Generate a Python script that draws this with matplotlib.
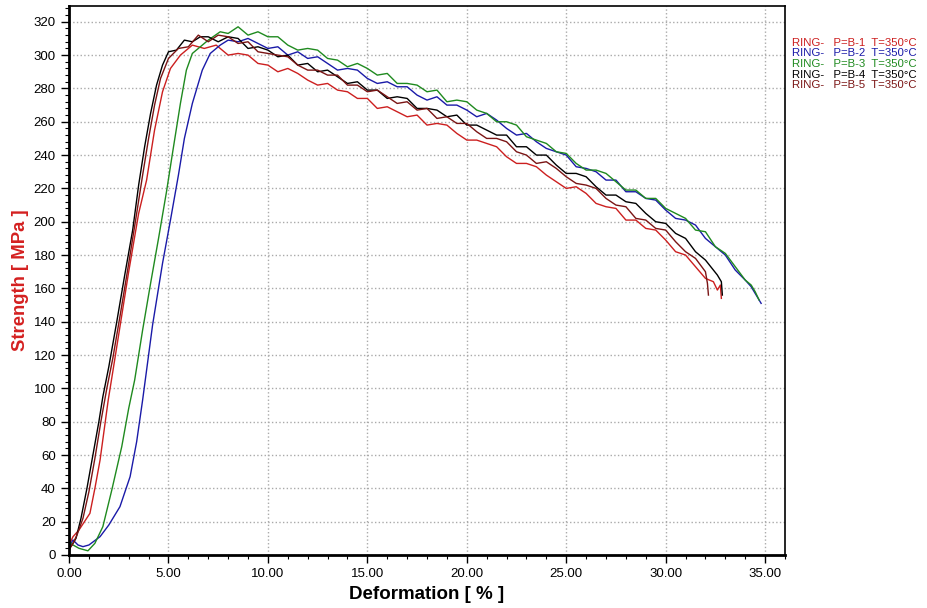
import matplotlib
matplotlib.use('Agg')
import matplotlib.pyplot as plt
from matplotlib.ticker import MultipleLocator, FormatStrFormatter

plt.rcParams['font.family'] = ['Liberation Sans', 'DejaVu Sans']

# B-1 (red)
x_b1 = [0.0, 0.2, 0.5, 1.05, 1.3, 1.56, 1.97, 2.2, 2.6, 3.0, 3.5, 3.9, 4.3, 4.7, 5.1, 5.6,
        6.2, 6.8, 7.4, 8.0, 8.5, 9.0, 9.5, 10.0, 10.5, 11.0, 11.5, 12.0, 12.5, 13.0, 13.5,
        14.0, 14.5, 15.0, 15.5, 16.0, 16.5, 17.0, 17.5, 18.0, 18.5, 19.0, 19.5, 20.0, 20.5,
        21.0, 21.5, 22.0, 22.5, 23.0, 23.5, 24.0, 24.5, 25.0, 25.5, 26.0, 26.5, 27.0, 27.5,
        28.0, 28.5, 29.0, 29.5, 30.0, 30.5, 31.0, 31.5, 32.0, 32.4, 32.6, 32.75, 32.8]
y_b1 = [6, 11, 15, 25, 40, 57, 93, 110, 140, 170, 205, 225, 255, 278, 292, 300,
        306, 304, 306, 300, 301, 300, 295, 294, 290, 292, 289, 285, 282, 283, 279,
        278, 274, 274, 268, 269, 266, 263, 264, 258, 259, 258, 253, 249, 249,
        247, 245, 239, 235, 235, 233, 228, 224, 220, 221, 217, 211, 209, 208,
        201, 201, 196, 195, 189, 182, 180, 173, 166, 164, 159, 162, 154]

# B-2 (blue)
x_b2 = [0.0, 0.2, 0.45, 0.7, 1.0, 1.56, 2.0, 2.56, 3.07, 3.4, 3.7, 4.2, 4.7, 5.1, 5.5, 5.8,
        6.2, 6.7, 7.1, 7.6, 8.0, 8.5, 9.0, 9.5, 10.0, 10.5, 11.0, 11.5, 12.0, 12.5, 13.0,
        13.5, 14.0, 14.5, 15.0, 15.5, 16.0, 16.5, 17.0, 17.5, 18.0, 18.5, 19.0, 19.5, 20.0,
        20.5, 21.0, 21.5, 22.0, 22.5, 23.0, 23.5, 24.0, 24.5, 25.0, 25.5, 26.0, 26.5, 27.0,
        27.5, 28.0, 28.5, 29.0, 29.5, 30.0, 30.5, 31.0, 31.5, 32.0, 32.5, 33.0, 33.5, 34.0,
        34.3, 34.6, 34.8]
y_b2 = [5, 9, 6, 5, 6, 11, 18, 29, 47, 68, 93, 138, 175, 201, 228, 250,
        271, 291, 301, 306, 309, 308, 310, 307, 304, 305, 300, 302, 298, 299, 295,
        291, 292, 291, 286, 283, 284, 281, 281, 276, 273, 275, 270, 270, 267,
        263, 265, 261, 256, 252, 253, 248, 244, 242, 240, 233, 232, 230, 225,
        225, 218, 218, 214, 213, 207, 202, 201, 198, 190, 185, 180, 171, 165,
        161, 155, 151]

# B-3 (green)
x_b3 = [0.0, 0.2, 0.5, 0.95, 1.3, 1.7, 2.15, 2.65, 3.0, 3.3, 3.7, 4.1, 4.5, 4.9, 5.2, 5.6,
        5.9, 6.2, 6.6, 7.0, 7.6, 8.0, 8.5, 9.0, 9.5, 10.0, 10.5, 11.0, 11.5, 12.0, 12.5,
        13.0, 13.5, 14.0, 14.5, 15.0, 15.5, 16.0, 16.5, 17.0, 17.5, 18.0, 18.5, 19.0, 19.5,
        20.0, 20.5, 21.0, 21.5, 22.0, 22.5, 23.0, 23.5, 24.0, 24.5, 25.0, 25.5, 26.0, 26.5,
        27.0, 27.5, 28.0, 28.5, 29.0, 29.5, 30.0, 30.5, 31.0, 31.5, 32.0, 32.5, 33.0, 33.5,
        34.0, 34.3, 34.5, 34.7]
y_b3 = [8, 6, 4, 2.5, 7, 17, 39, 65, 88, 105, 135, 163, 190, 218, 241, 271,
        291, 301, 305, 309, 314, 313, 317, 312, 314, 311, 311, 306, 303, 304, 303,
        298, 297, 293, 295, 292, 288, 289, 283, 283, 282, 278, 279, 272, 273,
        272, 267, 265, 260, 260, 258, 251, 249, 247, 242, 241, 235, 231, 231,
        229, 224, 219, 219, 214, 214, 208, 205, 202, 195, 194, 185, 181, 173,
        165, 162, 158, 153]

# B-4 (black)
x_b4 = [0.0, 0.15, 0.35, 0.6, 0.9, 1.2, 1.5, 1.7, 2.0, 2.4, 2.8, 3.2, 3.5, 3.8, 4.1, 4.4,
        4.7, 5.0, 5.4, 5.8, 6.2, 6.6, 7.0, 7.5, 8.0, 8.5, 9.0, 9.5, 10.0, 10.5, 11.0,
        11.5, 12.0, 12.5, 13.0, 13.5, 14.0, 14.5, 15.0, 15.5, 16.0, 16.5, 17.0, 17.5, 18.0,
        18.5, 19.0, 19.5, 20.0, 20.5, 21.0, 21.5, 22.0, 22.5, 23.0, 23.5, 24.0, 24.5, 25.0,
        25.5, 26.0, 26.5, 27.0, 27.5, 28.0, 28.5, 29.0, 29.5, 30.0, 30.5, 31.0, 31.5, 32.0,
        32.4, 32.6, 32.8, 32.85]
y_b4 = [4, 6, 10, 22, 40, 60, 80, 95, 113, 140, 168, 195, 222, 245, 265, 282,
        294, 302, 303, 309, 308, 311, 311, 308, 311, 310, 304, 305, 303, 299, 300,
        294, 295, 290, 291, 287, 283, 284, 279, 279, 274, 275, 274, 268, 268,
        267, 263, 264, 258, 258, 255, 252, 252, 245, 245, 240, 240, 234, 229,
        229, 227, 221, 216, 216, 212, 211, 205, 200, 199, 193, 190, 182, 177,
        171, 168, 164, 156]

# B-5 (dark red)
x_b5 = [0.0, 0.2, 0.4, 0.7, 1.0, 1.3, 1.6, 1.9, 2.2, 2.6, 3.0, 3.4, 3.7, 4.0, 4.3, 4.6,
        5.0, 5.5, 6.0, 6.5, 7.0, 7.5, 8.0, 8.5, 9.0, 9.5, 10.0, 10.5, 11.0, 11.5, 12.0,
        12.5, 13.0, 13.5, 14.0, 14.5, 15.0, 15.5, 16.0, 16.5, 17.0, 17.5, 18.0, 18.5, 19.0,
        19.5, 20.0, 20.5, 21.0, 21.5, 22.0, 22.5, 23.0, 23.5, 24.0, 24.5, 25.0, 25.5, 26.0,
        26.5, 27.0, 27.5, 28.0, 28.5, 29.0, 29.5, 30.0, 30.5, 31.0, 31.5, 32.0, 32.1, 32.15]
y_b5 = [3, 7, 12, 22, 38, 58, 80, 100, 118, 146, 175, 205, 228, 250, 270, 286,
        298, 304, 305, 312, 308, 312, 311, 307, 308, 302, 301, 300, 299, 294, 291,
        291, 288, 288, 282, 282, 278, 279, 275, 271, 272, 267, 268, 262, 263,
        259, 259, 254, 250, 250, 248, 242, 240, 235, 236, 232, 227, 223, 222,
        220, 214, 210, 209, 202, 201, 196, 195, 188, 182, 178, 170, 163, 156]

labels = ['RING-   P=B-1  T=350°C', 'RING-   P=B-2  T=350°C', 'RING-   P=B-3  T=350°C',
          'RING-   P=B-4  T=350°C', 'RING-   P=B-5  T=350°C']
colors = ['#cc1f1f', '#1a1aa8', '#1f8a1f', '#000000', '#7a1414']

fig = plt.figure(figsize=(9.28, 6.08), dpi=100)
ax = fig.add_axes([0.0744, 0.0872, 0.7715, 0.903])

series = [(x_b1, y_b1), (x_b2, y_b2), (x_b3, y_b3), (x_b4, y_b4), (x_b5, y_b5)]
for (xs, ys), c in zip(series, colors):
    ax.plot(xs, ys, color=c, lw=1.0)

ax.set_xlim(0, 36)
ax.set_ylim(0, 329.5)
ax.xaxis.set_major_locator(MultipleLocator(5))
ax.xaxis.set_minor_locator(MultipleLocator(1))
ax.yaxis.set_major_locator(MultipleLocator(20))
ax.yaxis.set_minor_locator(MultipleLocator(4))
ax.xaxis.set_major_formatter(FormatStrFormatter('%.2f'))
ax.tick_params(which='major', length=6, width=1, labelsize=9.5, direction='out')
ax.tick_params(which='minor', length=3, width=0.8, direction='out')
ax.grid(True, which='major', color='#aaaaaa', linestyle=':', linewidth=1)

ax.spines['left'].set_linewidth(2)
ax.spines['bottom'].set_linewidth(2)
ax.spines['top'].set_linewidth(1.2)
ax.spines['right'].set_linewidth(1.2)

ax.set_xlabel('Deformation [ % ]', fontsize=13.5, fontweight='bold', labelpad=4)
ax.set_ylabel('Strength [ MPa ]', fontsize=13.3, fontweight='bold', color='#d42020', labelpad=3)

for i, (lab, c) in enumerate(zip(labels, colors)):
    fig.text(0.853, 1 - (43 + 10.5 * i) / 608, lab, color=c, fontsize=8.2, va='center', ha='left')

fig.savefig('out.png', dpi=100)
